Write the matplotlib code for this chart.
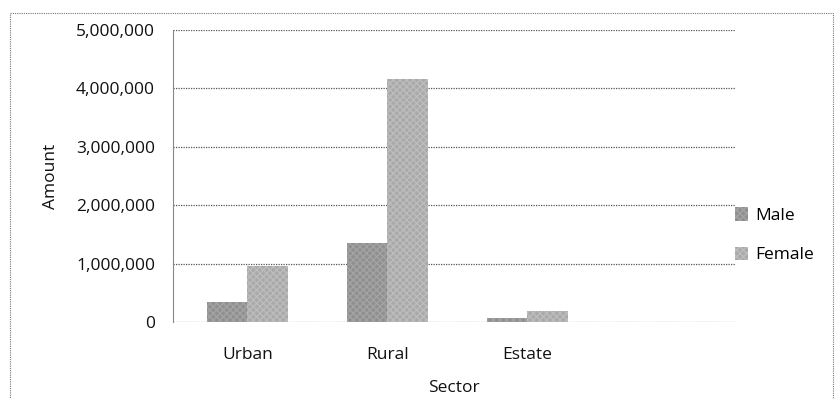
import matplotlib
matplotlib.use('Agg')
import numpy as np
from matplotlib import pyplot as plt
from matplotlib.patches import Rectangle

sectors = ['Urban', 'Rural', 'Estate']
male = [350000, 1360000, 75000]
female = [960000, 4160000, 180000]
yticks = [0, 1000000, 2000000, 3000000, 4000000, 5000000]

plt.rcParams['font.family'] = ['Open Sans', 'DejaVu Sans']

fig = plt.figure(figsize=(8.36, 3.99), dpi=100)
ax = fig.add_axes([0.207, 0.193, 0.672, 0.732])

x = np.arange(len(sectors))
w = 0.29
ax.bar(x - w / 2, male, w, color='#8f8f8f', hatch='xxxxx', edgecolor='#a3a3a3', lw=0, label='Male')
ax.bar(x + w / 2, female, w, color='#a9a9a9', hatch='xxxxx', edgecolor='#bcbcbc', lw=0, label='Female')

ax.set_xlim(-0.53, 3.48)
ax.set_ylim(0, 5000000)
ax.set_yticks(yticks)
ax.set_yticklabels([f'{v:,}' for v in yticks], fontsize=12.5, color='#111111')
ax.set_xticks(x)
ax.set_xticklabels(sectors, fontsize=12.5, color='#111111')
ax.tick_params(axis='y', length=0, pad=13)
ax.tick_params(axis='x', length=0, pad=18)

ax.grid(axis='y', ls=(0, (1, 1)), color='#555555', lw=0.9)
ax.set_axisbelow(True)
for s in ['top', 'right', 'bottom']:
    ax.spines[s].set_visible(False)
ax.spines['left'].set_color('#888888')
ax.spines['left'].set_lw(0.8)

ax.set_xlabel('Sector', fontsize=12.5, labelpad=12, color='#111111')
ax.set_ylabel('Amount', fontsize=12.5, labelpad=12, color='#111111')

fig.legend(loc='center left', bbox_to_anchor=(0.86, 0.41), frameon=False,
           fontsize=12.5, handlelength=0.8, handleheight=0.8, handletextpad=0.4,
           labelspacing=1.3)

fig.patches.append(Rectangle((0.012, -0.05), 0.985, 1.017, transform=fig.transFigure,
                             fill=False, ls=(0, (1, 1)), lw=0.8, edgecolor='#777777'))

fig.savefig('out.png', dpi=100)
